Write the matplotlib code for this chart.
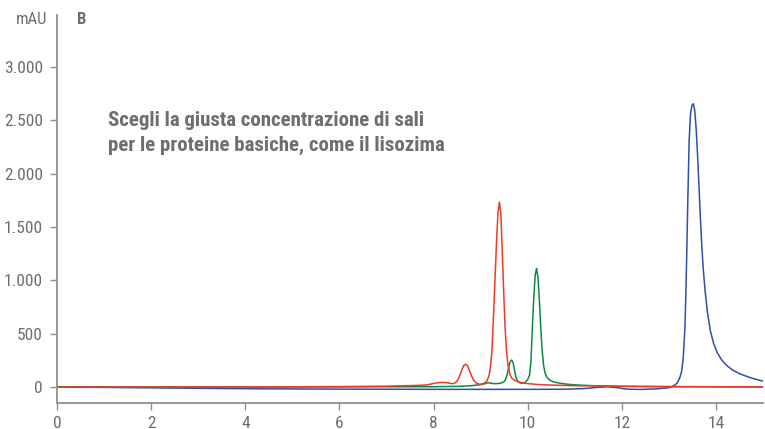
import matplotlib.pyplot as plt
from matplotlib.ticker import FuncFormatter

# Chromatogram traces (time in min, absorbance in mAU)
red_t = [0, 1, 2, 3, 4, 5, 6, 7, 7.6, 7.85, 7.95, 8.05, 8.17, 8.28, 8.36, 8.42,
         8.47, 8.51, 8.55, 8.60, 8.64, 8.68, 8.72, 8.76, 8.80, 8.85, 8.90, 8.95,
         9.00, 9.05, 9.10, 9.14, 9.18, 9.21, 9.24, 9.27, 9.31, 9.34, 9.37, 9.40, 9.43,
         9.46, 9.49, 9.52, 9.55, 9.58, 9.62, 9.66, 9.72, 9.80, 9.90, 10.0, 10.2,
         10.5, 11.0, 12.0, 13.0, 14.0, 15.0]
red_v = [0, 0, 0, 1, 1, 2, 4, 8, 14, 19, 28, 38, 44, 41, 34, 31,
         42, 62, 100, 160, 200, 213, 200, 160, 110, 65, 40, 28,
         26, 30, 42, 62, 110, 190, 330, 620, 1050, 1380, 1640, 1734, 1620,
         1280, 900, 560, 340, 210, 120, 85, 62, 48, 38, 32, 24,
         18, 12, 7, 4, 2, 1]

green_t = [0, 2, 4, 6, 7, 8, 8.4, 8.6, 8.8, 9.0, 9.1, 9.16, 9.22, 9.28, 9.34,
           9.40, 9.46, 9.52, 9.56, 9.60, 9.63, 9.66, 9.69, 9.72, 9.75, 9.79,
           9.84, 9.90, 9.95, 10.00, 10.04, 10.07, 10.10, 10.13, 10.16, 10.19,
           10.22, 10.25, 10.28, 10.31, 10.34, 10.37, 10.41, 10.47, 10.55, 10.65,
           10.8, 11.0, 11.5, 12.0, 12.5, 13.0, 14.0, 15.0]
green_v = [0, 0, 0, 1, 2, 3, 5, 7, 12, 22, 32, 40, 36, 31, 32,
           34, 40, 60, 110, 190, 240, 253, 230, 160, 90, 55,
           37, 35, 45, 70, 110, 240, 560, 840, 1050, 1112,
           1020, 800, 540, 330, 200, 130, 90, 65, 48, 38,
           28, 20, 10, 6, 4, 3, 2, 1]

blue_t = [0, 1, 2, 3, 4, 5, 6, 7, 8, 9, 10, 10.8, 11.2, 11.5, 11.7, 11.9, 12.1,
          12.4, 12.7, 12.95, 13.05, 13.12, 13.18, 13.23, 13.27, 13.30, 13.32,
          13.34, 13.36, 13.38, 13.40, 13.43, 13.46, 13.49, 13.52, 13.55, 13.58,
          13.61, 13.64, 13.67, 13.70, 13.73, 13.77, 13.82, 13.88, 13.95, 14.03,
          14.12, 14.22, 14.35, 14.5, 14.7, 14.85, 15.0]
blue_v = [-2, -4, -8, -12, -16, -18, -20, -21, -22, -22, -22, -21, -15, -3, 2, -6, -20,
          -23, -18, -10, 0, 15, 40, 85, 144, 250, 380,
          550, 850, 1250, 1700, 2300, 2560, 2640, 2655, 2590, 2420,
          2170, 1880, 1580, 1320, 1110, 900, 700, 530, 410, 320,
          255, 205, 160, 125, 92, 72, 55]

x_ticks = [0, 2, 4, 6, 8, 10, 12, 14]
y_ticks = [0, 500, 1000, 1500, 2000, 2500, 3000]

grey = "#6d6e70"
axis_grey = "#8e8f91"
font = ["Roboto Condensed", "DejaVu Sans"]

fig = plt.figure(figsize=(7.65, 4.29), dpi=100)
ax = fig.add_axes([57 / 765, 26 / 429, 706 / 765, 388 / 429])

ax.plot(blue_t, blue_v, color="#2f4fa8", linewidth=1.1)
ax.plot(green_t, green_v, color="#0b8a3e", linewidth=1.1)
ax.plot(red_t, red_v, color="#ec3b25", linewidth=1.1)

ax.set_xlim(0, 15)
ax.set_ylim(-150, 3487)
ax.set_xticks(x_ticks)
ax.set_yticks(y_ticks)
ax.yaxis.set_major_formatter(FuncFormatter(lambda v, p: f"{int(v):,}".replace(",", ".")))

for side in ["top", "right"]:
    ax.spines[side].set_visible(False)
for side in ["left", "bottom"]:
    ax.spines[side].set_color(axis_grey)
    ax.spines[side].set_linewidth(1.3)

ax.tick_params(axis="both", colors=axis_grey, length=5, width=1.0, labelcolor=grey,
               labelsize=12.5)
ax.tick_params(axis="y", pad=5)
ax.tick_params(axis="x", pad=4)
for lbl in ax.get_xticklabels() + ax.get_yticklabels():
    lbl.set_family(font)

fig.text(47 / 765, 1 - 19 / 429, "mAU", color=grey, fontsize=12, family=font,
         ha="right", va="center")
fig.text(77 / 765, 1 - 20 / 429, "B", color=grey, fontsize=12, family=font,
         fontweight="bold", ha="left", va="center")

ax.text(51 / 706, 1 - 96 / 388,
        "Scegli la giusta concentrazione di sali\nper le proteine basiche, come il lisozima",
        transform=ax.transAxes, color=grey, fontsize=15, family=font, fontweight="bold",
        ha="left", va="top", linespacing=1.38)

fig.savefig("out.png", dpi=100)
